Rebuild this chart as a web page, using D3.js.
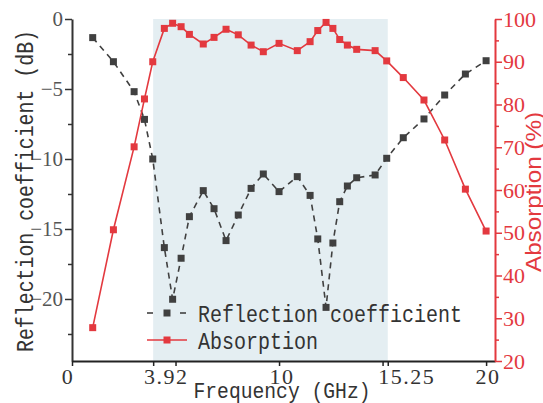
<!DOCTYPE html>
<html><head><meta charset="utf-8">
<script src="https://cdn.jsdelivr.net/npm/d3@7"></script>
<style>body{margin:0;background:#fff}svg{display:block}</style>
</head><body>
<svg id="c" width="543" height="403"></svg>
<script>
const freq = [1,2,3,3.5,3.9,4.46,4.86,5.27,5.67,6.34,6.86,7.44,8.03,8.65,9.24,10,10.88,11.5,11.87,12.27,12.6,12.93,13.3,13.75,14.64,15.2,16,17,18,19,20];
const reflection = [-1.33,-3.05,-5.19,-7.17,-10.0,-16.33,-20.02,-17.09,-14.12,-12.26,-13.55,-15.83,-14.0,-12.1,-11.07,-12.33,-11.26,-12.6,-15.71,-20.6,-16.0,-13.05,-11.93,-11.34,-11.14,-9.95,-8.48,-7.14,-5.43,-3.93,-2.98];
const absorption = [27.8,50.7,70.1,81.3,90.0,97.8,99.0,98.2,96.4,94.15,95.7,97.6,96.3,93.9,92.35,94.3,92.6,94.7,97.3,99.2,97.8,95.2,93.9,92.9,92.6,90.2,86.3,81.05,71.7,60.2,50.4];
const band = [3.92, 15.25];
const xTicks = [0, 3.92, 5, 10, 15, 15.25, 20];
const xTickLabels = [0, 3.92, 10, 15.25, 20];
const yLeftTicks = [0, -5, -10, -15, -20];
const yLeftMinor = [-2.5, -7.5, -12.5, -17.5, -22.5];
const yRightTicks = [20, 30, 40, 50, 60, 70, 80, 90, 100];
const yRightMinor = [25, 35, 45, 55, 65, 75, 85, 95];
const seriesNames = ["Reflection coefficient", "Absorption"];

const RED = "#e3393f", DARK = "#404040";
const svg = d3.select("#c");
const x = d3.scaleLinear([0, 20.43], [72, 495]);
const yL = d3.scaleLinear([-24.43, 0], [361, 19]);
const yR = d3.scaleLinear([20, 100], [361, 19]);

// shaded band
svg.append("rect").attr("x", x(band[0])).attr("y", 19)
  .attr("width", x(band[1]) - x(band[0])).attr("height", 361 - 19)
  .attr("fill", "#e4eef2");

// left axis
const gl = svg.append("g").attr("transform", "translate(72,0)");
gl.call(d3.axisLeft(yL).tickValues(yLeftTicks).tickSize(7).tickSizeOuter(0).tickPadding(2));
gl.append("g").call(d3.axisLeft(yL).tickValues(yLeftMinor).tickSize(4).tickFormat("")).select(".domain").remove();
gl.selectAll(".domain").attr("stroke", "#333").attr("stroke-width", 2);
gl.selectAll(".tick line").attr("stroke", "#333").attr("stroke-width", 1.5);
gl.selectAll(".tick text").attr("fill", "#555").style("font-family", "Liberation Serif").style("font-size", "21px");

// bottom axis
const gb = svg.append("g").attr("transform", "translate(0,361)");
gb.call(d3.axisBottom(x).tickValues(xTicks).tickSize(5).tickSizeOuter(0).tickFormat(""));
gb.selectAll(".domain").attr("stroke", "#222").attr("stroke-width", 2);
gb.selectAll(".tick line").attr("stroke", "#222").attr("stroke-width", 1.5);
const labelShift = {0: -4, 3.92: 13, 10: 3, 15.25: 19, 20: 2};
gb.selectAll(".lbl").data(xTickLabels).join("text")
  .attr("x", d => x(d) + labelShift[d]).attr("y", 23)
  .attr("text-anchor", "middle").attr("fill", "#333")
  .style("font-family", "Liberation Serif").style("font-size", "22px").style("letter-spacing", "1.5px")
  .text(d => d);

// right axis
const gr = svg.append("g").attr("transform", "translate(495,0)");
gr.call(d3.axisRight(yR).tickValues(yRightTicks).tickSize(7).tickSizeOuter(0).tickPadding(1));
gr.append("g").call(d3.axisRight(yR).tickValues(yRightMinor).tickSize(4).tickFormat("")).select(".domain").remove();
gr.selectAll(".domain").attr("stroke", RED).attr("stroke-width", 2);
gr.selectAll(".tick line").attr("stroke", RED).attr("stroke-width", 1.5);
gr.selectAll(".tick text").attr("fill", RED).style("font-family", "Liberation Serif").style("font-size", "22px");

// titles
svg.append("text").attr("transform", "translate(33,191) rotate(-90)").attr("text-anchor", "middle")
  .attr("fill", "#333").style("font-family", "Liberation Mono").style("font-size", "23px")
  .attr("textLength", 322).attr("lengthAdjust", "spacingAndGlyphs")
  .text("Reflection coefficient (dB)");
svg.append("text").attr("transform", "translate(541,192) rotate(-90)").attr("text-anchor", "middle")
  .attr("fill", RED).style("font-family", "Liberation Sans").style("font-size", "22px")
  .attr("textLength", 160).attr("lengthAdjust", "spacingAndGlyphs")
  .text("Absorption (%)");
svg.append("text").attr("x", 282).attr("y", 398).attr("text-anchor", "middle")
  .attr("fill", "#333").style("font-family", "Liberation Mono").style("font-size", "22px")
  .attr("textLength", 177).attr("lengthAdjust", "spacingAndGlyphs")
  .text("Frequency (GHz)");

// series
const pts = freq.map((f, i) => ({f, r: reflection[i], a: absorption[i]}));
const lineR = d3.line().x(d => x(d.f)).y(d => yL(d.r));
const lineA = d3.line().x(d => x(d.f)).y(d => yR(d.a));
const ms = 7;
svg.append("path").datum(pts).attr("d", lineR).attr("fill", "none")
  .attr("stroke", DARK).attr("stroke-width", 1.6).attr("stroke-dasharray", "6,5");
svg.append("g").selectAll("rect").data(pts).join("rect")
  .attr("x", d => x(d.f) - ms/2).attr("y", d => yL(d.r) - ms/2).attr("width", ms).attr("height", ms)
  .attr("fill", DARK);
svg.append("path").datum(pts).attr("d", lineA).attr("fill", "none")
  .attr("stroke", RED).attr("stroke-width", 1.6);
svg.append("g").selectAll("rect").data(pts).join("rect")
  .attr("x", d => x(d.f) - ms/2).attr("y", d => yR(d.a) - ms/2).attr("width", ms).attr("height", ms)
  .attr("fill", RED);

// legend
const lg = svg.append("g");
const legendRows = [{name: seriesNames[0], color: DARK, dash: true, y: 313},
                    {name: seriesNames[1], color: RED, dash: false, y: 340}];
legendRows.forEach(r => {
  if (r.dash) {
    lg.append("line").attr("x1", 147).attr("x2", 153).attr("y1", r.y).attr("y2", r.y).attr("stroke", r.color).attr("stroke-width", 1.6);
    lg.append("line").attr("x1", 180).attr("x2", 186).attr("y1", r.y).attr("y2", r.y).attr("stroke", r.color).attr("stroke-width", 1.6);
  } else {
    lg.append("line").attr("x1", 147).attr("x2", 187).attr("y1", r.y).attr("y2", r.y).attr("stroke", r.color).attr("stroke-width", 1.6);
  }
  lg.append("rect").attr("x", 167 - ms/2).attr("y", r.y - ms/2).attr("width", ms).attr("height", ms).attr("fill", r.color);
  lg.append("text").attr("x", 198).attr("y", r.y + 9).attr("fill", "#333")
    .style("font-family", "Liberation Mono").style("font-size", "24px")
    .attr("textLength", r.name.length * 12).attr("lengthAdjust", "spacingAndGlyphs")
    .text(r.name);
});
</script>
</body></html>
